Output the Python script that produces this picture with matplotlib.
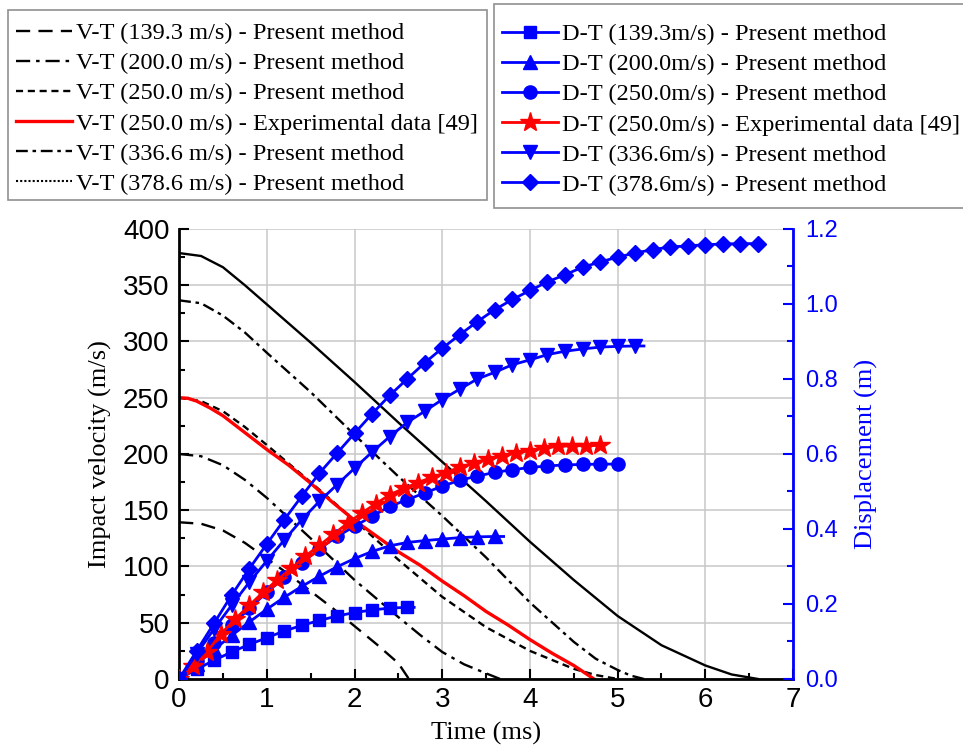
import matplotlib.pyplot as plt
from matplotlib.lines import Line2D
from matplotlib.patches import Rectangle
from matplotlib.ticker import MultipleLocator

# ---- velocity-time curves (m/s) ----
v139_t = [0, 0.25, 0.5, 0.75, 1.0, 1.25, 1.5, 1.75, 2.0, 2.25, 2.5, 2.62]
v139 = [139.3, 138, 132, 121, 107, 93, 78, 63, 47, 31, 14, 0]

v200_t = [0, 0.25, 0.5, 0.75, 1.0, 1.5, 2.0, 2.5, 2.75, 3.0, 3.25, 3.5, 3.66]
v200 = [200, 198, 190, 177, 161, 125, 88, 55, 39, 24, 13, 5, 0]

v250p_t = [0, 0.25, 0.5, 0.75, 1.0, 1.5, 2.0, 2.5, 3.0, 3.5, 4.0, 4.25, 4.5, 4.75, 5.0]
v250p = [250, 247, 238, 224, 208, 175, 141, 106, 73, 46, 25, 17, 9, 3.5, 0]

v250e_t = [0, 0.1, 0.2, 0.35, 0.5, 0.7, 0.85, 1.0, 1.25, 1.5, 1.75, 2.0, 2.25, 2.5,
           2.75, 3.0, 3.25, 3.5, 3.75, 4.0, 4.25, 4.5, 4.73]
v250e = [250, 249.5, 247, 241, 234, 222, 213, 204, 190, 174, 157, 141, 127, 113,
         101, 87, 74, 60, 48, 35, 23, 12, 0]

v336_t = [0, 0.25, 0.5, 0.75, 1.0, 1.5, 2.0, 2.5, 3.0, 3.5, 4.0, 4.5, 4.75, 5.0, 5.15, 5.3]
v336 = [336.6, 334, 323, 308, 290, 255, 217, 180, 145, 108, 68, 33, 18, 8, 3, 0]

v378_t = [0, 0.25, 0.5, 0.75, 1.0, 1.5, 2.0, 2.5, 3.0, 3.5, 4.0, 4.5, 5.0, 5.5, 6.0, 6.3, 6.6]
v378 = [378.6, 376, 366, 350, 333, 299, 264, 228, 193, 158, 122, 88, 56, 30, 12, 4, 0]

# ---- displacement-time curves (m) ----
t_grid = [0.0, 0.2, 0.4, 0.6, 0.8, 1.0, 1.2, 1.4, 1.6, 1.8, 2.0, 2.2, 2.4, 2.6, 2.8,
          3.0, 3.2, 3.4, 3.6, 3.8, 4.0, 4.2, 4.4, 4.6, 4.8, 5.0, 5.2, 5.4, 5.6, 5.8,
          6.0, 6.2, 6.4, 6.6]

d139 = [0, 0.026, 0.050, 0.072, 0.092, 0.110, 0.128, 0.143, 0.156, 0.168, 0.177,
        0.184, 0.189, 0.191]
d139_end = (2.68, 0.191)

d200 = [0, 0.040, 0.079, 0.116, 0.152, 0.186, 0.218, 0.247, 0.274, 0.299, 0.321,
        0.340, 0.355, 0.364, 0.369, 0.373, 0.377, 0.379, 0.380]
d200_end = (3.7, 0.380)

d250 = [0, 0.049, 0.097, 0.143, 0.188, 0.231, 0.271, 0.310, 0.347, 0.380, 0.407,
        0.434, 0.460, 0.478, 0.496, 0.514, 0.530, 0.541, 0.551, 0.558, 0.564,
        0.568, 0.571, 0.572, 0.573, 0.573]
d250_end = (5.05, 0.573)

d250e_t = [0, 0.16, 0.32, 0.48, 0.64, 0.80, 0.96, 1.12, 1.28, 1.44, 1.60, 1.76,
           1.92, 2.08, 2.24, 2.40, 2.56, 2.72, 2.88, 3.04, 3.20, 3.36, 3.52, 3.68,
           3.84, 4.00, 4.16, 4.32, 4.48, 4.64, 4.80]
d250e = [0, 0.034, 0.073, 0.121, 0.160, 0.196, 0.232, 0.264, 0.295, 0.328, 0.356,
         0.386, 0.415, 0.442, 0.467, 0.491, 0.508, 0.523, 0.538, 0.550, 0.565,
         0.576, 0.587, 0.594, 0.603, 0.609, 0.616, 0.620, 0.622, 0.622, 0.623]

d336 = [0, 0.067, 0.134, 0.197, 0.258, 0.315, 0.371, 0.425, 0.474, 0.518, 0.562,
        0.605, 0.646, 0.684, 0.714, 0.745, 0.773, 0.800, 0.818, 0.838, 0.851,
        0.865, 0.874, 0.880, 0.885, 0.887, 0.888]
d336_end = (5.3, 0.888)

d378 = [0, 0.075, 0.149, 0.224, 0.294, 0.360, 0.425, 0.488, 0.549, 0.602, 0.655,
        0.707, 0.756, 0.800, 0.843, 0.882, 0.918, 0.953, 0.985, 1.012, 1.036,
        1.059, 1.078, 1.098, 1.112, 1.125, 1.136, 1.145, 1.152, 1.155, 1.158,
        1.160, 1.161, 1.161]

serif = 'Liberation Serif'
sans = 'Liberation Sans'
blue = '#0000ff'
red = '#ff0000'

fig = plt.figure(figsize=(9.63, 7.54), dpi=100)
ax = fig.add_axes([0.186, 0.0995, 0.6375, 0.5968])
ax2 = ax.twinx()

# V-T lines
klw = 1.7
l1, = ax.plot(v139_t, v139, color='k', lw=klw, ls=(0, (6, 3.5)),
              label='V-T (139.3 m/s) - Present method')
l2, = ax.plot(v200_t, v200, color='k', lw=klw, ls=(0, (6, 2.5, 1.5, 2.5)),
              label='V-T (200.0 m/s) - Present method')
l3, = ax.plot(v250p_t, v250p, color='k', lw=klw, ls=(0, (3, 2)),
              label='V-T (250.0 m/s) - Present method')
l4, = ax.plot(v250e_t, v250e, color=red, lw=2.4,
              label='V-T (250.0 m/s) - Experimental data [49]')
l5, = ax.plot(v336_t, v336, color='k', lw=klw, ls=(0, (5, 2, 1.5, 2)),
              label='V-T (336.6 m/s) - Present method')
ax.plot(v378_t, v378, color='k', lw=klw, ls='-')
l6 = Line2D([], [], color='k', lw=1.5, ls=(0, (1, 1)),
            label='V-T (378.6 m/s) - Present method')


def dline(t, d, end, marker, ms, label):
    tt = list(t[:len(d)])
    dd = list(d)
    n = len(dd)
    if end is not None:
        tt.append(end[0])
        dd.append(end[1])
    ln, = ax2.plot(tt, dd, color=blue, lw=2, marker=marker, ms=ms,
                   markevery=list(range(n)), label=label)
    return ln


h1 = dline(t_grid, d139, d139_end, 's', 8, 'D-T (139.3m/s) - Present method')
h2 = dline(t_grid, d200, d200_end, '^', 10, 'D-T (200.0m/s) - Present method')
h3 = dline(t_grid, d250, d250_end, 'o', 9.5, 'D-T (250.0m/s) - Present method')
h4, = ax2.plot(d250e_t, d250e, color=red, lw=2, marker='*', ms=15,
               label='D-T (250.0m/s) - Experimental data [49]')
h5 = dline(t_grid, d336, d336_end, 'v', 10, 'D-T (336.6m/s) - Present method')
h6 = dline(t_grid, d378, None, 'D', 8.5, 'D-T (378.6m/s) - Present method')

# axes setup
ax.set_xlim(0, 7)
ax.set_ylim(0, 400)
ax2.set_ylim(0, 1.2)
ax.xaxis.set_major_locator(MultipleLocator(1))
ax.xaxis.set_minor_locator(MultipleLocator(0.5))
ax.yaxis.set_major_locator(MultipleLocator(50))
ax.yaxis.set_minor_locator(MultipleLocator(25))
ax2.yaxis.set_major_locator(MultipleLocator(0.2))
ax2.yaxis.set_minor_locator(MultipleLocator(0.1))
ax2.yaxis.set_major_formatter(plt.FormatStrFormatter('%.1f'))

ax.grid(True, which='major', color='#c8c8c8', lw=1.1)
ax.set_axisbelow(True)

ax.tick_params(which='both', direction='in', labelsize=20, width=1.5)
ax.tick_params(which='major', length=7, pad=7)
ax.tick_params(which='minor', length=4)
ax.tick_params(axis='x', pad=6)
ax2.tick_params(which='both', direction='in', colors=blue, labelsize=17, width=1.5)
ax2.tick_params(which='major', length=7, pad=9)
ax2.tick_params(which='minor', length=4)
for lab in ax.get_xticklabels() + ax.get_yticklabels() + ax2.get_yticklabels():
    lab.set_fontfamily(sans)

for sp in ['top']:
    ax.spines[sp].set_visible(False)
    ax2.spines[sp].set_visible(False)
ax.spines['left'].set_linewidth(2)
ax.spines['bottom'].set_linewidth(2)
ax2.spines['right'].set_color(blue)
ax2.spines['right'].set_linewidth(2)
ax2.spines['left'].set_visible(False)
ax2.spines['bottom'].set_visible(False)
ax.spines['right'].set_visible(False)

ax.set_xlabel('Time (ms)', fontfamily=serif, fontsize=19, labelpad=6)
ax.set_ylabel('Impact velocity (m/s)', fontfamily=serif, fontsize=19, labelpad=8)
ax2.set_ylabel('Displacement (m)', fontfamily=serif, fontsize=19, color=blue, labelpad=12)

# legend frames drawn as plain rectangles (pixel boxes of the reference)
W, H = 963.0, 754.0
for x0, y0, x1, y1 in [(8, 10, 487, 200), (494, 4, 975, 208)]:
    fig.patches.append(Rectangle((x0 / W, 1 - y1 / H), (x1 - x0) / W, (y1 - y0) / H,
                                 transform=fig.transFigure, facecolor='white',
                                 edgecolor='#909090', lw=1.2, zorder=0))

leg_kw = dict(loc='upper left', frameon=False, borderaxespad=0, borderpad=0,
              handlelength=2.3, handletextpad=0.15, labelspacing=0.33,
              prop={'family': serif, 'size': 17.6})
lg1 = fig.legend(handles=[l1, l2, l3, l4, l5, l6],
                 bbox_to_anchor=(16 / W, 1 - 22 / H), **leg_kw)
lg2 = fig.legend(handles=[h1, h2, h3, h4, h5, h6],
                 bbox_to_anchor=(502 / W, 1 - 23 / H), **leg_kw)

fig.savefig('out.png', dpi=100)
